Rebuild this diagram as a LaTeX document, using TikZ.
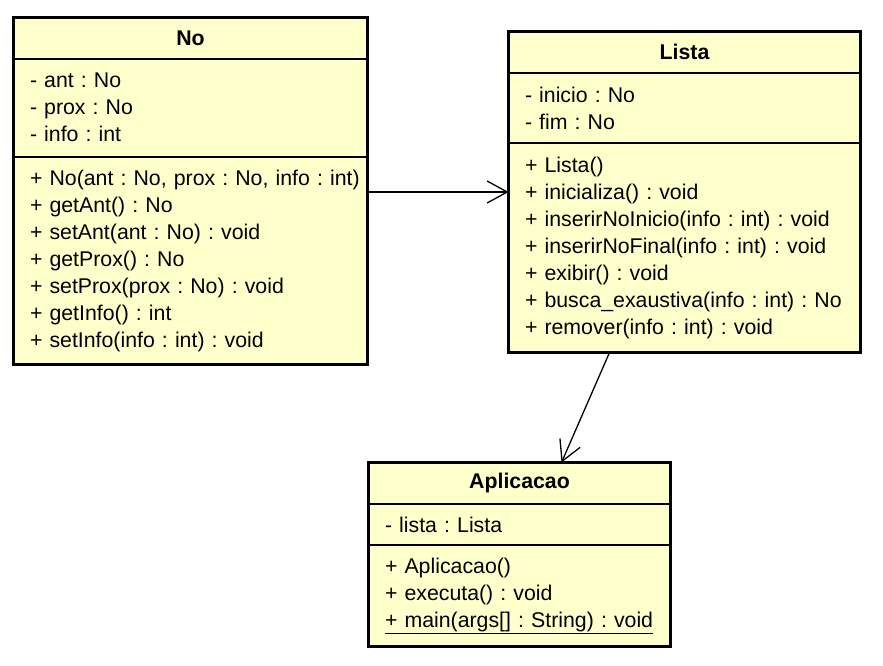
\documentclass[tikz,border=0pt]{standalone}
\usepackage{fontspec}
\setmainfont{Liberation Sans}
\usetikzlibrary{arrows.meta,positioning}
\definecolor{classfill}{HTML}{FFFFCC}
\frenchspacing
\begin{document}
\begin{tikzpicture}[x=1pt, y=-1pt, every node/.style={font=\fontsize{21.3}{27}\selectfont}]
  \tikzset{hdr/.style={rectangle, draw=black, line width=1pt, fill=classfill, font=\fontsize{21.3}{27}\selectfont\bfseries, inner sep=0pt}, cmp/.style={rectangle, draw=black, line width=1pt, fill=classfill, align=left, inner xsep=6pt, inner ysep=0pt, execute at begin node={\leftskip=10pt}}, frame/.style={draw=black, line width=3pt}, assoc/.style={-{Straight Barb[length=20pt, width=22pt]}, line width=1.3pt}}
  \useasboundingbox (0,0) rectangle (883,665);
  \node[hdr, minimum width=353pt, minimum height=40pt, anchor=north west] (no) at (13.5,17.5) {No};
  \node[cmp, below=0pt of no, text width=341pt, minimum height=97pt] (noattr) {- ant : No\\ - prox : No\\ - info : int};
  \node[cmp, below=0pt of noattr, text width=341pt, minimum height=207pt] (nometh) {+ No(ant : No, prox : No, info : int)\\ + getAnt() : No\\ + setAnt(ant : No) : void\\ + getProx() : No\\ + setProx(prox : No) : void\\ + getInfo() : int\\ + setInfo(info : int) : void};
  \node[hdr, minimum width=351pt, minimum height=40.5pt, anchor=north west] (lista) at (508.5,31.5) {Lista};
  \node[cmp, below=0pt of lista, text width=339pt, minimum height=69pt] (listaattr) {- inicio : No\\ - fim : No};
  \node[cmp, below=0pt of listaattr, text width=339pt, minimum height=208.5pt] (listameth) {+ Lista()\\ + inicializa() : void\\ + inserirNoInicio(info : int) : void\\ + inserirNoFinal(info : int) : void\\ + exibir() : void\\ + busca\_exaustiva(info : int) : No\\ + remover(info : int) : void};
  \node[hdr, minimum width=301pt, minimum height=40.5pt, anchor=north west] (apl) at (368.5,462.5) {Aplicacao};
  \node[cmp, below=0pt of apl, text width=289pt, minimum height=40pt] (aplattr) {- lista : Lista};
  \node[cmp, below=0pt of aplattr, text width=289pt, minimum height=100.5pt] (aplmeth) {+ Aplicacao()\\ + executa() : void\\ \underline{+ main(args[] : String) : void}};
  \draw[frame] (no.north west) rectangle (nometh.south east);
  \draw[frame] (lista.north west) rectangle (listameth.south east);
  \draw[frame] (apl.north west) rectangle (aplmeth.south east);
  \coordinate (nolink) at ([yshift=-35.5pt]nometh.north east);
  \draw[assoc] (nolink) -- (nolink -| lista.west);
  \draw[assoc] ([xshift=-75pt]listameth.south) -- ([xshift=42pt]apl.north);
\end{tikzpicture}
\end{document}
